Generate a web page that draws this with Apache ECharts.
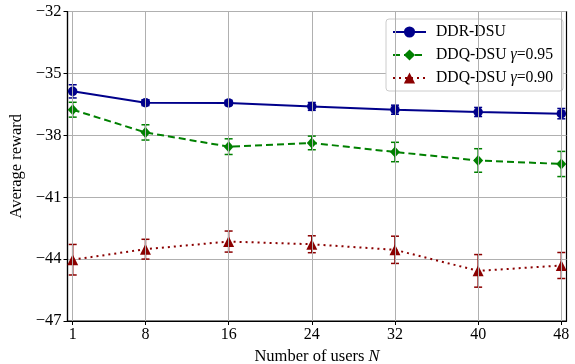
<!DOCTYPE html>
<html>
<head>
<meta charset="utf-8">
<script src="https://cdn.jsdelivr.net/npm/echarts@6/dist/echarts.min.js"></script>
<style>
  html, body { margin: 0; padding: 0; background: #fff; }
  #chart { width: 575px; height: 364px; }
</style>
</head>
<body>
<div id="chart"></div>
<script>
var users = [1, 8, 16, 24, 32, 40, 48];
var xTicks = [1, 8, 16, 24, 32, 40, 48];

// DDR-DSU
var ddrMean = [-35.87, -36.42, -36.43, -36.60, -36.76, -36.87, -36.95];
var ddrErr = [0.32, 0.14, 0.12, 0.19, 0.22, 0.22, 0.25];
// DDQ-DSU gamma=0.95
var q95Mean = [-36.76, -37.86, -38.55, -38.37, -38.81, -39.22, -39.39];
var q95Err = [0.36, 0.37, 0.38, 0.33, 0.47, 0.57, 0.61];
// DDQ-DSU gamma=0.90
var q90Mean = [-44.03, -43.52, -43.15, -43.28, -43.55, -44.57, -44.31];
var q90Err = [0.74, 0.48, 0.51, 0.41, 0.66, 0.79, 0.63];

var FONT = '"Liberation Serif", "DejaVu Serif", serif';

function pairs(mean) {
  return users.map(function (x, i) { return [x, mean[i]]; });
}
function errData(mean, err) {
  return users.map(function (x, i) { return [x, mean[i] - err[i], mean[i] + err[i]]; });
}

// vertical error bars with caps
function errSeries(id, mean, err, color) {
  return {
    name: id,
    type: 'custom',
    z: 3,
    silent: true,
    data: errData(mean, err),
    renderItem: function (params, api) {
      var lo = api.coord([api.value(0), api.value(1)]);
      var hi = api.coord([api.value(0), api.value(2)]);
      var w = 4;
      var st = { stroke: color, lineWidth: 1.5 };
      return {
        type: 'group',
        children: [
          { type: 'line', shape: { x1: lo[0], y1: lo[1], x2: hi[0], y2: hi[1] }, style: st },
          { type: 'line', shape: { x1: lo[0] - w, y1: lo[1], x2: lo[0] + w, y2: lo[1] }, style: st },
          { type: 'line', shape: { x1: hi[0] - w, y1: hi[1], x2: hi[0] + w, y2: hi[1] }, style: st }
        ]
      };
    }
  };
}

var chart = echarts.init(document.getElementById('chart'), null, { renderer: 'canvas' });

var option = {
  animation: false,
  backgroundColor: '#fff',
  grid: {
    left: 67.5, right: 8.5, top: 11.5, bottom: 43,
    outerBoundsMode: 'none',
    containLabel: false,
    show: true, borderColor: '#000', borderWidth: 1.2, backgroundColor: 'transparent'
  },
  legend: {
    right: 12, top: 19,
    orient: 'vertical',
    itemWidth: 33, itemHeight: 14, itemGap: 7,
    backgroundColor: '#fff',
    borderColor: '#cccccc', borderWidth: 1, borderRadius: 3,
    padding: [5, 10, 5, 6],
    data: ['DDR-DSU', 'DDQ-DSU g95', 'DDQ-DSU g90'],
    formatter: function (name) {
      if (name === 'DDR-DSU') return '{s|}{a|DDR-DSU}';
      if (name === 'DDQ-DSU g95') return '{s|}{a|DDQ-DSU }{g|γ}{a|=0.95}';
      return '{s|}{a|DDQ-DSU }{g|γ}{a|=0.90}';
    },
    textStyle: {
      rich: {
        s: { width: 5 },
        a: { fontFamily: FONT, fontSize: 15.7, color: '#000' },
        g: { fontFamily: FONT, fontSize: 15.7, fontStyle: 'italic', color: '#000' }
      }
    }
  },
  xAxis: {
    type: 'value',
    min: 0.5, max: 48.5,
    name: '{a|Number of users }{n|N}',
    nameLocation: 'middle',
    nameGap: 22,
    nameTextStyle: {
      rich: {
        a: { fontFamily: FONT, fontSize: 16.5, color: '#000' },
        n: { fontFamily: FONT, fontSize: 16.5, fontStyle: 'italic', color: '#000' }
      }
    },
    axisLine: { show: true, lineStyle: { color: '#000', width: 1.2 } },
    axisTick: { show: true, customValues: xTicks, length: 4, lineStyle: { color: '#000' } },
    axisLabel: {
      customValues: xTicks,
      fontFamily: FONT, fontSize: 16, color: '#000', margin: 6
    },
    splitLine: { show: false }
  },
  yAxis: {
    type: 'value',
    min: -47, max: -32, interval: 3,
    name: 'Average reward',
    nameLocation: 'middle',
    nameGap: 39,
    nameTextStyle: { fontFamily: FONT, fontSize: 16.5, color: '#000' },
    axisLine: { show: true, lineStyle: { color: '#000', width: 1.2 } },
    axisTick: { show: true, length: 4, lineStyle: { color: '#000' } },
    axisLabel: {
      fontFamily: FONT, fontSize: 16.5, color: '#000', margin: 6,
      formatter: function (v) { return String(v).replace('-', '\u2212'); }
    },
    splitLine: { show: true, lineStyle: { color: '#b0b0b0', width: 1 } }
  },
  series: [
    {
      name: 'gridx',
      type: 'line',
      data: [],
      silent: true,
      markLine: {
        silent: true,
        symbol: 'none',
        label: { show: false },
        lineStyle: { color: '#b0b0b0', width: 1, type: 'solid' },
        data: xTicks.map(function (t) { return { xAxis: t }; })
      }
    },
    errSeries('err-ddr', ddrMean, ddrErr, '#00008b'),
    errSeries('err-q95', q95Mean, q95Err, '#008000'),
    errSeries('err-q90', q90Mean, q90Err, '#8b0000'),
    {
      name: 'DDR-DSU',
      type: 'line',
      z: 4,
      data: pairs(ddrMean),
      color: '#00008b',
      symbol: 'circle', symbolSize: 9.5,
      lineStyle: { width: 2, color: '#00008b' },
      itemStyle: { color: '#00008b' }
    },
    {
      name: 'DDQ-DSU g95',
      type: 'line',
      z: 4,
      data: pairs(q95Mean),
      color: '#008000',
      symbol: 'diamond', symbolSize: [10, 11],
      lineStyle: { width: 2, type: [7, 4], color: '#008000' },
      itemStyle: { color: '#008000' }
    },
    {
      name: 'DDQ-DSU g90',
      type: 'line',
      z: 4,
      data: pairs(q90Mean),
      color: '#8b0000',
      symbol: 'triangle', symbolSize: 11,
      lineStyle: { width: 2, type: [2, 4], color: '#8b0000' },
      itemStyle: { color: '#8b0000' }
    }
  ]
};

chart.setOption(option);
</script>
</body>
</html>
